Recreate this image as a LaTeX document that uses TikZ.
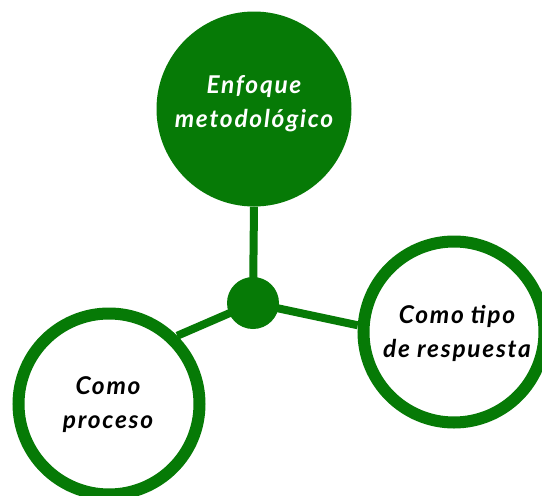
\documentclass[tikz,border=0pt]{standalone}
\usepackage{fontspec}
\setmainfont{Lato}[LetterSpace=7]
\definecolor{gr}{RGB}{6,122,6}
\begin{document}
\begin{tikzpicture}[x=1pt,y=-1pt,
  topc/.style={circle,fill=gr,inner sep=0pt,minimum size=195pt},
  ring/.style={circle,draw=gr,fill=white,line width=12pt,inner sep=0pt,minimum size=181pt},
  hubc/.style={circle,fill=gr,inner sep=0pt,minimum size=52pt},
  conn/.style={draw=gr,line width=8pt},
  lbl/.style={font=\fontsize{24.5}{34}\selectfont\bfseries\itshape,align=center,inner sep=0pt}]
\useasboundingbox (0,0) rectangle (542,496);
\clip (0,0) rectangle (542,496);
\node[topc] (top) at (254,109) {};
\node[hubc] (hub) at (253,303) {};
\node[ring] (right) at (454,332) {};
\node[ring] (left) at (109,404) {};
\draw[conn] (hub.center) -- (top.south);
\draw[conn] (hub.center) -- (left.45);
\draw[conn] (hub.center) -- (right.176);
\node[lbl,text=white] (toptxt) at (254,104) {Enfoque\\metodológico};
\node[lbl,text=black] (righttxt) at (457,333) {Como tipo\\de respuesta};
\node[lbl,text=black] (lefttxt) at (108,405) {Como\\proceso};
\end{tikzpicture}
\end{document}
